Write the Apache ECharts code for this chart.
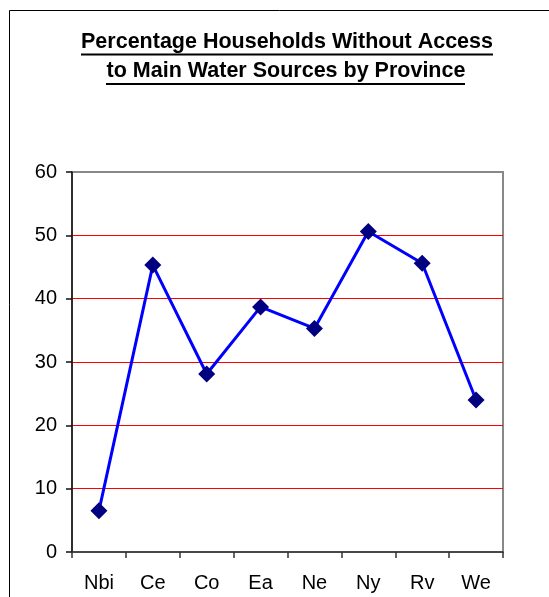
<!DOCTYPE html>
<html>
<head>
<meta charset="utf-8">
<script src="https://cdn.jsdelivr.net/npm/echarts@6/dist/echarts.min.js"></script>
<style>
html,body{margin:0;padding:0;background:#fff;}
#chart{width:549px;height:597px;}
</style>
</head>
<body>
<div id="chart"></div>
<script>
var categories = ['Nbi', 'Ce', 'Co', 'Ea', 'Ne', 'Ny', 'Rv', 'We'];
var values = [6.5, 45.3, 28.1, 38.7, 35.3, 50.6, 45.6, 24.0];
var yTicks = [0, 10, 20, 30, 40, 50, 60];
var titleLines = ['Percentage Households Without Access', 'to Main Water Sources by Province'];

var FONT = 'Arial, "Liberation Sans", sans-serif';
var chart = echarts.init(document.getElementById('chart'), null, {renderer: 'canvas'});
chart.setOption({
  backgroundColor: '#ffffff',
  animation: false,
  graphic: [
    {type: 'rect', shape: {x: 9.5, y: 10.5, width: 700, height: 700}, style: {fill: 'none', stroke: '#000', lineWidth: 1}, z: 0},
    {type: 'text', x: 287, y: 42, style: {text: titleLines[0], font: 'bold 21.5px ' + FONT, fill: '#000', align: 'center', verticalAlign: 'middle'}},
    {type: 'text', x: 286, y: 71, style: {text: titleLines[1], font: 'bold 21.5px ' + FONT, fill: '#000', align: 'center', verticalAlign: 'middle'}},
    {type: 'line', shape: {x1: 81, y1: 54.5, x2: 493, y2: 54.5}, style: {stroke: '#000', lineWidth: 2}},
    {type: 'line', shape: {x1: 106, y1: 84, x2: 465, y2: 84}, style: {stroke: '#000', lineWidth: 2}}
  ],
  grid: {
    left: 72, right: 46, top: 172, bottom: 45,
    show: true, borderColor: '#888', borderWidth: 2, backgroundColor: 'transparent'
  },
  xAxis: {
    type: 'category',
    data: categories,
    boundaryGap: true,
    axisLine: {lineStyle: {color: '#333', width: 1.5}},
    axisTick: {show: true, length: 6, alignWithLabel: false, lineStyle: {color: '#333', width: 1.5}},
    axisLabel: {color: '#000', fontSize: 20, fontFamily: FONT, margin: 21}
  },
  yAxis: {
    type: 'value',
    min: yTicks[0], max: yTicks[yTicks.length - 1], interval: 10,
    axisLine: {show: true, lineStyle: {color: '#111', width: 1.5}},
    axisTick: {show: true, length: 6, lineStyle: {color: '#111', width: 1.5}},
    axisLabel: {color: '#000', fontSize: 20, fontFamily: FONT, margin: 15},
    splitLine: {show: true, showMinLine: false, showMaxLine: false, lineStyle: {color: '#ff0000', width: 1}}
  },
  series: [{
    type: 'line',
    data: values,
    symbol: 'diamond',
    symbolSize: 17,
    lineStyle: {color: '#0000ff', width: 3},
    itemStyle: {color: '#000080', borderWidth: 0},
    z: 3
  }]
});
</script>
</body>
</html>
